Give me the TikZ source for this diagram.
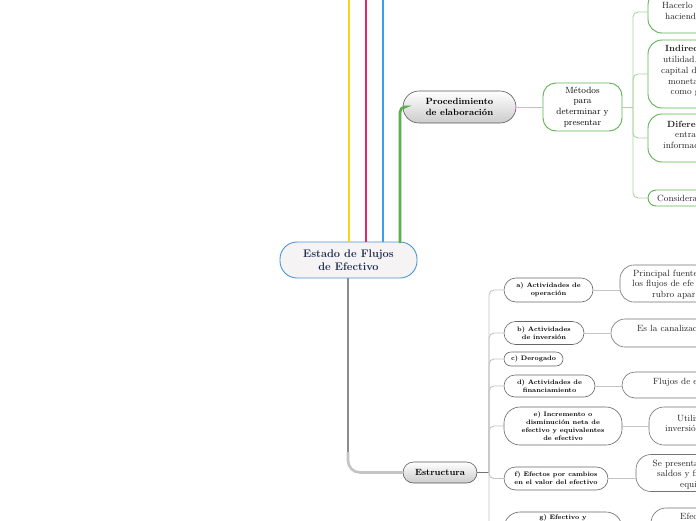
\documentclass[tikz,border=0pt]{standalone}
\usepackage{fontspec}
\usetikzlibrary{calc}
\definecolor{cyel}{HTML}{FFD11A}
\definecolor{cpink}{HTML}{E5266B}
\definecolor{cblue}{HTML}{3AA0EA}
\definecolor{cgreen}{HTML}{5BAE4E}
\definecolor{cgreenlt}{HTML}{A8D5A0}
\definecolor{cboxgreen}{HTML}{5CB352}
\definecolor{crootb}{HTML}{4A94D6}
\definecolor{crootf}{HTML}{F5F3F3}
\definecolor{cnavy}{HTML}{1D2B53}
\definecolor{cgrayline}{HTML}{8C8C8C}
\definecolor{cgraylt}{HTML}{C4C4C4}
\newcommand\myfs[2]{\fontsize{#1}{#2}\selectfont}
\begin{document}
\begin{tikzpicture}[x=1pt,y=-1pt,
  rootbox/.style={draw=crootb, line width=0.9pt, fill=crootf, rounded corners=17pt,
    minimum width=137pt, minimum height=36pt, inner sep=0pt, align=center,
    font=\myfs{11}{13}\bfseries, text=cnavy},
  greybox/.style={draw=black!65, line width=0.6pt, top color=white, bottom color=black!20,
    inner sep=0pt, align=center},
  greenbox/.style={draw=cboxgreen, line width=0.9pt, fill=white, inner sep=0pt, align=center},
  lcbox/.style={draw=black!60, line width=0.6pt, fill=white, inner sep=0pt, align=center,
    font=\myfs{6.5}{8}\bfseries},
  rcbox/.style={draw=black!55, line width=0.6pt, fill=white, inner sep=0pt,
    minimum width=160pt},
  txt/.style={anchor=base west, inner sep=0pt, font=\myfs{9}{11}, text=black!85},
  btxt/.style={txt, font=\myfs{9}{11}\bfseries},
  thickline/.style={line width=2.6pt},
  gconn/.style={draw=cgreenlt, line width=0.9pt},
  econn/.style={draw=cgraylt, line width=0.9pt},
]
\useasboundingbox (0,0) rectangle (696,520);
\fill[white] (0,0) rectangle (696,520);
\clip (0,0) rectangle (696,520);

% ---------- nodes ----------
\node[rootbox] (root) at (348.5,260) {Estado de Flujos\\de Efectivo};
\node[greybox, rounded corners=16pt, minimum width=113pt, minimum height=32pt,
  font=\myfs{9}{10.7}\bfseries] (proc) at (459.5,107) {Procedimiento\\de elaboración};
\node[greenbox, rounded corners=13pt, minimum width=79pt, minimum height=48pt,
  font=\myfs{9}{10.8}] (met) at (582.5,107) {Métodos\\para\\determinar y\\presentar};
\node[greenbox, rounded corners=14pt, minimum width=112pt, minimum height=42pt] (hac) at (704,12) {};
\node[greenbox, rounded corners=14pt, minimum width=112pt, minimum height=68pt] (ind) at (704,74) {};
\node[greenbox, rounded corners=14pt, minimum width=112pt, minimum height=48pt] (dif) at (704,138) {};
\node[greenbox, rounded corners=8pt, minimum width=112pt, minimum height=16pt] (con) at (704,198) {};

\node[greybox, rounded corners=10.5pt, minimum width=74pt, minimum height=21pt,
  font=\myfs{9}{10.7}\bfseries] (est) at (440,472.5) {Estructura};

\node[lcbox, rounded corners=12pt, minimum width=89pt, minimum height=24pt] (a) at (548.5,290) {a) Actividades de\\operación};
\node[lcbox, rounded corners=11.5pt, minimum width=80pt, minimum height=23pt] (b) at (544,333) {b) Actividades\\de inversión};
\node[lcbox, rounded corners=7pt, minimum width=59pt, minimum height=14pt] (c) at (533.5,359) {c) Derogado};
\node[lcbox, rounded corners=11pt, minimum width=91pt, minimum height=22pt] (d) at (549.5,386) {d) Actividades de\\financiamiento};
\node[lcbox, rounded corners=16pt, minimum width=118pt, minimum height=38pt] (e) at (563,426) {e) Incremento o\\disminución neta de\\efectivo y equivalentes\\de efectivo};
\node[lcbox, rounded corners=11.5pt, minimum width=104pt, minimum height=23pt] (f) at (556,478.5) {f) Efectos por cambios\\en el valor del efectivo};
\node[lcbox, rounded corners=16pt, minimum width=118pt, minimum height=40pt] (g) at (563,532) {};
\node[inner sep=0pt, font=\myfs{6.5}{8}\bfseries] (gt) at (563,518) {g) Efectivo y};

\node[rcbox, rounded corners=14pt, minimum height=37pt] (ra) at (700,283.5) {};
\node[rcbox, rounded corners=14pt, minimum width=168pt, minimum height=28pt] (rb) at (695,333) {};
\node[rcbox, rounded corners=13pt, minimum height=26pt] (rd) at (702,385) {};
\node[rcbox, rounded corners=15pt, minimum height=38pt] (re) at (729,426) {};
\node[rcbox, rounded corners=15pt, minimum height=37pt] (rf) at (716,473) {};
\node[rcbox, rounded corners=15pt, minimum height=44pt] (rg) at (731,530) {};

% ---------- texts of cut-off nodes ----------
\node[txt] (t1) at (662,8) {Hacerlo};
\node[txt] (t2) at (665,19) {haciend};
\node[btxt] (t3) at (665,51) {Indirec};
\node[txt] (t4) at (663,62) {utilidad.};
\node[txt] (t5) at (661,73) {capital d};
\node[txt] (t6) at (668,84) {moneta};
\node[txt] (t7) at (670.5,94.5) {como g};
\node[btxt] (t8) at (667,127) {Diferen};
\node[txt] (t9) at (675,137.5) {entra};
\node[txt] (t10) at (663,148) {informac};
\node[txt] (t11) at (657,201) {Considera};
\node[txt] (t12) at (633,276) {Principal fuente};
\node[txt] (t13) at (632,286.5) {los flujos de efe};
\node[txt] (t14) at (652,297) {rubro apar};
\node[txt] (t15) at (637,331) {Es la canalizaci};
\node[txt] (t16) at (653,384) {Flujos de e};
\node[txt] (t17) at (677,421) {Utiliz};
\node[txt] (t18) at (665,431) {inversió};
\node[txt] (t19) at (652.5,466) {Se presenta};
\node[txt] (t20) at (657,476.5) {saldos y fl};
\node[txt] (t21) at (680,487) {equi};
\node[txt] (t22) at (680,519) {Efec};

% ---------- connectors ----------
\coordinate (ytop) at (349,-5);
\coordinate (ptop) at (366,-5);
\coordinate (btop) at (383,-5);
\draw[thickline, cyel] (ytop) -- (ytop |- root.north);
\draw[thickline, cpink] (ptop) -- (ptop |- root.north);
\draw[thickline, cblue] (btop) -- (btop |- root.north);
\coordinate (gstart) at (400,243);
\draw[thickline, cgreen, rounded corners=5pt] (gstart) |- (proc.west);

\coordinate (rstart) at (348,278);
\coordinate (rbend) at (348,452);
\draw[thickline, cgrayline] (rstart) -- (rbend);
\draw[thickline, cgraylt, rounded corners=12pt] (rbend) |- (est.west);

\draw[gconn] (proc.east) -- (met.west);
\coordinate (trunkG) at (633,107);
\draw[gconn] (met.east) -- (trunkG);
\draw[gconn, rounded corners=5pt] (trunkG) |- (hac.west);
\draw[gconn, rounded corners=5pt] (trunkG) |- (ind.west);
\draw[gconn, rounded corners=5pt] (trunkG) |- (dif.west);
\draw[gconn, rounded corners=5pt] (trunkG) |- (con.west);

\coordinate (trunkE) at (489,472.5);
\draw[line width=1.6pt, black!55] (est.east) -- (trunkE);
\foreach \n in {a,b,c,d,e,f,g}{
  \draw[econn, rounded corners=5pt] (trunkE) |- (\n.west);
}
\draw[econn] (a.east) -- (a.east -| ra.west);
\draw[econn] (b.east) -- (b.east -| rb.west);
\draw[econn] (d.east) -- (d.east -| rd.west);
\draw[econn] (e.east) -- (e.east -| re.west);
\draw[econn] (f.east) -- (f.east -| rf.west);
\draw[econn] (g.east) -- (g.east -| rg.west);
\end{tikzpicture}
\end{document}
